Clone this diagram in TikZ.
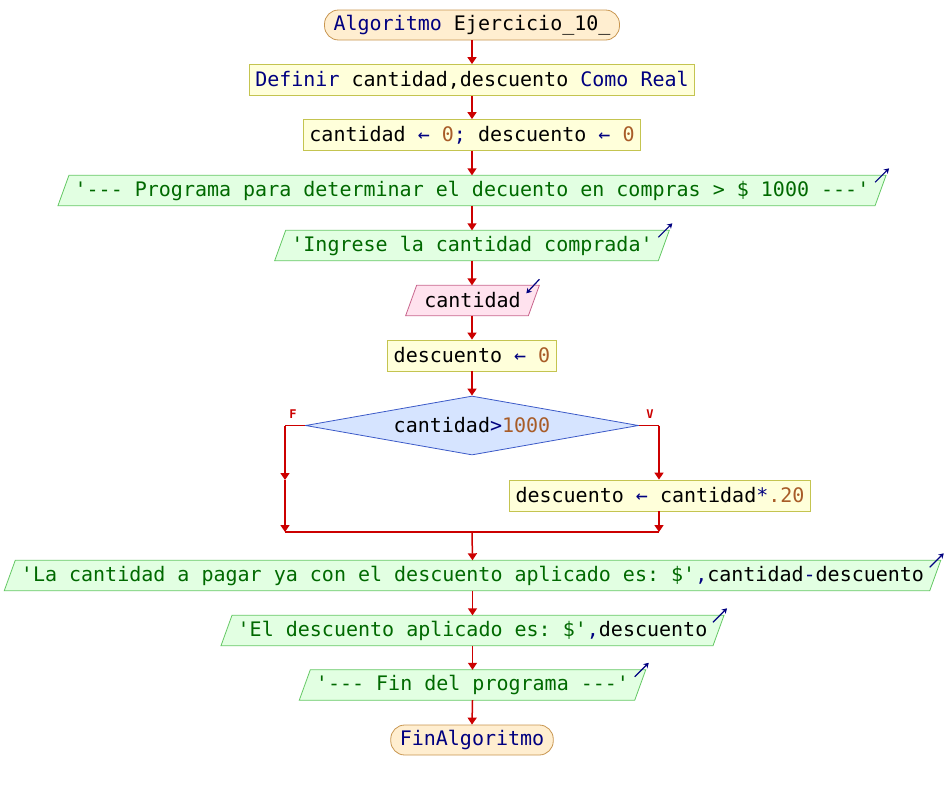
\documentclass[tikz,border=0pt]{standalone}
\usepackage{fontspec}
\setmonofont{DejaVu Sans Mono}
\usetikzlibrary{shapes.geometric,arrows.meta,positioning,backgrounds}
\definecolor{flujo}{RGB}{204,0,0}
\definecolor{clave}{RGB}{0,0,128}
\definecolor{numero}{RGB}{168,92,40}
\definecolor{cadena}{RGB}{0,105,0}
\definecolor{iniciofondo}{RGB}{255,238,208}
\definecolor{inicioborde}{RGB}{200,150,80}
\definecolor{procfondo}{RGB}{255,255,218}
\definecolor{procborde}{RGB}{196,196,80}
\definecolor{salfondo}{RGB}{226,255,226}
\definecolor{salborde}{RGB}{100,200,100}
\definecolor{leerfondo}{RGB}{255,226,238}
\definecolor{leerborde}{RGB}{200,100,140}
\definecolor{condfondo}{RGB}{214,228,255}
\definecolor{condborde}{RGB}{60,90,200}
\newcommand{\clv}[1]{\textcolor{clave}{#1}}
\newcommand{\nmr}[1]{\textcolor{numero}{#1}}
\newcommand{\cdn}[1]{\textcolor{cadena}{#1}}
\tikzstyle{inicio}=[rectangle,
                    rounded corners=14pt,
                    line width=0.8pt,
                    minimum height=30pt,
                    inner xsep=9pt,
                    draw=inicioborde,
                    fill=iniciofondo]
\tikzstyle{proc}=[rectangle,
                  line width=0.8pt,
                  minimum height=31pt,
                  inner xsep=6pt,
                  draw=procborde,
                  fill=procfondo]
\tikzstyle{salida}=[rectangle,
                    minimum height=30pt,
                    inner xsep=11pt]
\tikzstyle{leer}=[salida,
                  inner xsep=13pt]
\tikzstyle{paralsal}=[line width=0.8pt, draw=salborde, fill=salfondo]
\tikzstyle{paralleer}=[line width=0.8pt, draw=leerborde, fill=leerfondo]
\tikzstyle{cond}=[diamond,
                  aspect=5.6,
                  inner sep=0pt,
                  line width=0.8pt,
                  minimum width=333pt,
                  minimum height=59pt,
                  draw=condborde,
                  fill=condfondo]
\tikzstyle{flecha}=[draw=flujo, line width=1.5pt, -{Triangle[width=9pt,length=7pt]}]
\tikzstyle{linea}=[draw=flujo, line width=1.5pt]
\tikzstyle{marca}=[draw=clave, line width=1.2pt, -{Stealth[width=6pt,length=5pt]}]
\tikzstyle{rotulo}=[text=flujo, font=\ttfamily\bfseries\fontsize{12}{14}\selectfont]
\begin{document}
\begin{tikzpicture}[x=1pt,y=-1pt,font=\ttfamily\fontsize{20}{24}\selectfont]
    \useasboundingbox (0,0) rectangle (944,790);
    \node[inicio] (inicio) at (472,25) {\clv{Algoritmo} Ejercicio\_10\_};
    \node[proc] (definir) at (472,80) {\clv{Definir} cantidad,descuento \clv{Como Real}};
    \node[proc] (asig1) at (472,135) {cantidad \clv{←} \nmr{0}\clv{;} descuento \clv{←} \nmr{0}};
    \node[salida] (msg1) at (472,190.5) {\cdn{'--- Programa para determinar el decuento en compras > \$ 1000 ---'}};
    \node[salida] (msg2) at (472,245.5) {\cdn{'Ingrese la cantidad comprada'}};
    \node[leer] (leer) at (472.5,300.5) {cantidad};
    \node[proc] (asig2) at (472,355.5) {descuento \clv{←} \nmr{0}};
    \node[cond] (cond) at (472,425.5) {cantidad\clv{>}\nmr{1000}};
    \node[proc] (asig3) at (660,495.5) {descuento \clv{←} cantidad\clv{*}\nmr{.20}};
    \node[salida] (msg3) at (472.5,575.5) {\cdn{'La cantidad a pagar ya con el descuento aplicado es: \$'}\clv{,}cantidad\clv{-}descuento};
    \node[salida] (msg4) at (472.5,630.5) {\cdn{'El descuento aplicado es: \$'}\clv{,}descuento};
    \node[salida] (msg5) at (472.5,685) {\cdn{'--- Fin del programa ---'}};
    \node[inicio] (fin) at (472,740) {\clv{FinAlgoritmo}};
    \node[rotulo] (falso) at (293,414) {F};
    \node[rotulo] (verdad) at (650,414) {V};
    % paralelogramos detras del texto
    \begin{scope}[on background layer]
        \foreach \n/\s in {msg1/paralsal,msg2/paralsal,leer/paralleer,msg3/paralsal,msg4/paralsal,msg5/paralsal}
            \path[\s] ([xshift=-5.5pt]\n.south west) -- ([xshift=5.5pt]\n.north west)
                -- ([xshift=5.5pt]\n.north east) -- ([xshift=-5.5pt]\n.south east) -- cycle;
    \end{scope}
    % puntos de las ramas
    \coordinate (fsal) at (285,425.5);
    \coordinate (fmed) at (285,480);
    \coordinate (ffin) at (285,532);
    \coordinate (vsal) at (659,425.5);
    \coordinate (vfin) at (659,532);
    \coordinate (union) at (472,532);
    % flujo principal
    \draw[flecha] (inicio.south) -- (definir.north);
    \draw[flecha] (definir.south) -- (asig1.north);
    \draw[flecha] (asig1.south) -- (msg1.north);
    \draw[flecha] (msg1.south) -- (msg2.north);
    \draw[flecha] (msg2.south) -- (leer.north -| msg2.south);
    \draw[flecha] (leer.south -| asig2.north) -- (asig2.north);
    \draw[flecha] (asig2.south) -- (cond.north);
    \draw[linea] (cond.west) -- (fsal);
    \draw[flecha] (fsal) -- (fmed);
    \draw[flecha] (fmed) -- (ffin);
    \draw[linea] (cond.east) -- (vsal);
    \draw[flecha] (vsal) -- (vsal |- asig3.north);
    \draw[flecha] (vsal |- asig3.south) -- (vfin);
    \draw[linea] (ffin) -- (vfin);
    \draw[flecha] (union) -- (msg3.north);
    \draw[flecha] (msg3.south) -- (msg4.north);
    \draw[flecha] (msg4.south) -- (msg5.north);
    \draw[flecha] (msg5.south) -- (fin.north);
    % marcas de entrada y salida
    \foreach \n in {msg1,msg2,msg3,msg4,msg5}
        \draw[marca] ([shift={(-5.5,7)}]\n.north east) -- ([shift={(8.5,-7)}]\n.north east);
    \draw[marca] ([shift={(5.5,-6)}]leer.north east) -- ([shift={(-7.5,8)}]leer.north east);
\end{tikzpicture}
\end{document}
